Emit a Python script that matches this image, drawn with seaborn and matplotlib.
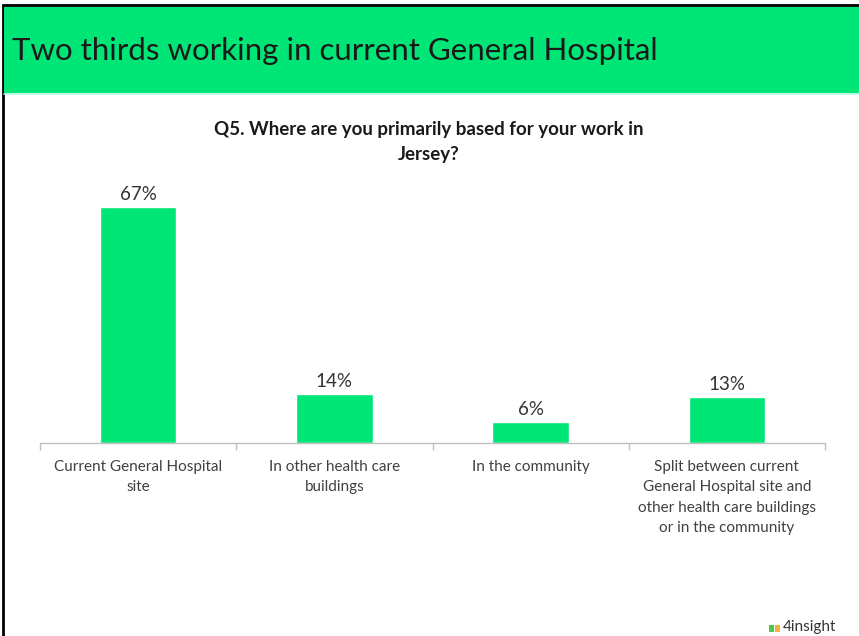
import matplotlib
matplotlib.use("Agg")
import matplotlib.pyplot as plt
from matplotlib.patches import Rectangle
from matplotlib.lines import Line2D
import seaborn as sns
import pandas as pd

# Survey results
categories = [
    "Current General Hospital\nsite",
    "In other health care\nbuildings",
    "In the community",
    "Split between current\nGeneral Hospital site and\nother health care buildings\nor in the community",
]
shares = [67, 14, 6, 13]

slide_title = "Two thirds working in current General Hospital"
question = "Q5. Where are you primarily based for your work in\nJersey?"

GREEN = "#00E676"
W, H = 859, 636

sns.set_theme(style="white")
plt.rcParams["font.family"] = ["Lato", "DejaVu Sans"]

fig = plt.figure(figsize=(W / 100, H / 100), dpi=100)
fig.patch.set_facecolor("white")

def fx(px):
    return px / W

def fy(py):
    return 1 - py / H

# Slide frame and header band
fig.add_artist(Rectangle((fx(3), fy(H + 20)), fx(W + 20), fy(5) - fy(H + 20),
                         transform=fig.transFigure, facecolor="none",
                         edgecolor="black", linewidth=2.0))
fig.add_artist(Rectangle((fx(4), fy(93)), fx(W), fy(7) - fy(93),
                         transform=fig.transFigure, facecolor=GREEN,
                         edgecolor="none"))
fig.add_artist(Line2D([fx(4), 1], [fy(94), fy(94)], transform=fig.transFigure,
                      color="#B8F5E4", linewidth=1.2))
fig.text(fx(12), fy(51), slide_title, fontsize=22.5, color="#1a1a1a",
         ha="left", va="center")

# Chart question
fig.text(fx(429), fy(142), question, fontsize=13.5, fontweight="bold",
         color="#1a1a1a", ha="center", va="center", linespacing=1.6)

# Bar chart
df = pd.DataFrame({"where": categories, "share": shares})
ax = fig.add_axes([fx(40), fy(443), fx(825) - fx(40), fy(180) - fy(443)])
sns.barplot(data=df, x="where", y="share", color=GREEN, width=0.39,
            saturation=1, ax=ax)
ax.set_ylim(0, 263 / 3.52)
ax.set_xlim(-0.5, len(categories) - 0.5)

for container in ax.containers:
    ax.bar_label(container, labels=[f"{v}%" for v in shares], padding=3,
                 fontsize=13.5, color="#333333")

for side in ["top", "right", "left"]:
    ax.spines[side].set_visible(False)
ax.spines["bottom"].set_color("#BFBFBF")
ax.spines["bottom"].set_linewidth(1.0)
ax.set_yticks([])
ax.set_xlabel("")
ax.set_ylabel("")

# Tick marks at category boundaries, labels centred under bars
ax.set_xticks([i - 0.5 for i in range(len(categories) + 1)], minor=False)
ax.set_xticklabels([])
ax.tick_params(axis="x", which="major", length=5, width=1, color="#BFBFBF",
               direction="out", bottom=True)
ax.set_xticks(range(len(categories)), minor=True)
ax.set_xticklabels(categories, minor=True, fontsize=11, color="#404040",
                   linespacing=1.6)
ax.tick_params(axis="x", which="minor", length=0, pad=12)
for lbl in ax.get_xticklabels(minor=True):
    lbl.set_verticalalignment("top")

# Footer logo
fig.text(fx(783), fy(627), "4insight", fontsize=11, color="#333333",
         ha="left", va="center")
fig.add_artist(Rectangle((fx(769), fy(632)), fx(5), fy(625) - fy(632),
                         transform=fig.transFigure, facecolor="#4CC94C",
                         edgecolor="none"))
fig.add_artist(Rectangle((fx(775), fy(632)), fx(5), fy(625) - fy(632),
                         transform=fig.transFigure, facecolor="#F5B041",
                         edgecolor="none"))

fig.savefig("out.png", dpi=100, facecolor="white")
